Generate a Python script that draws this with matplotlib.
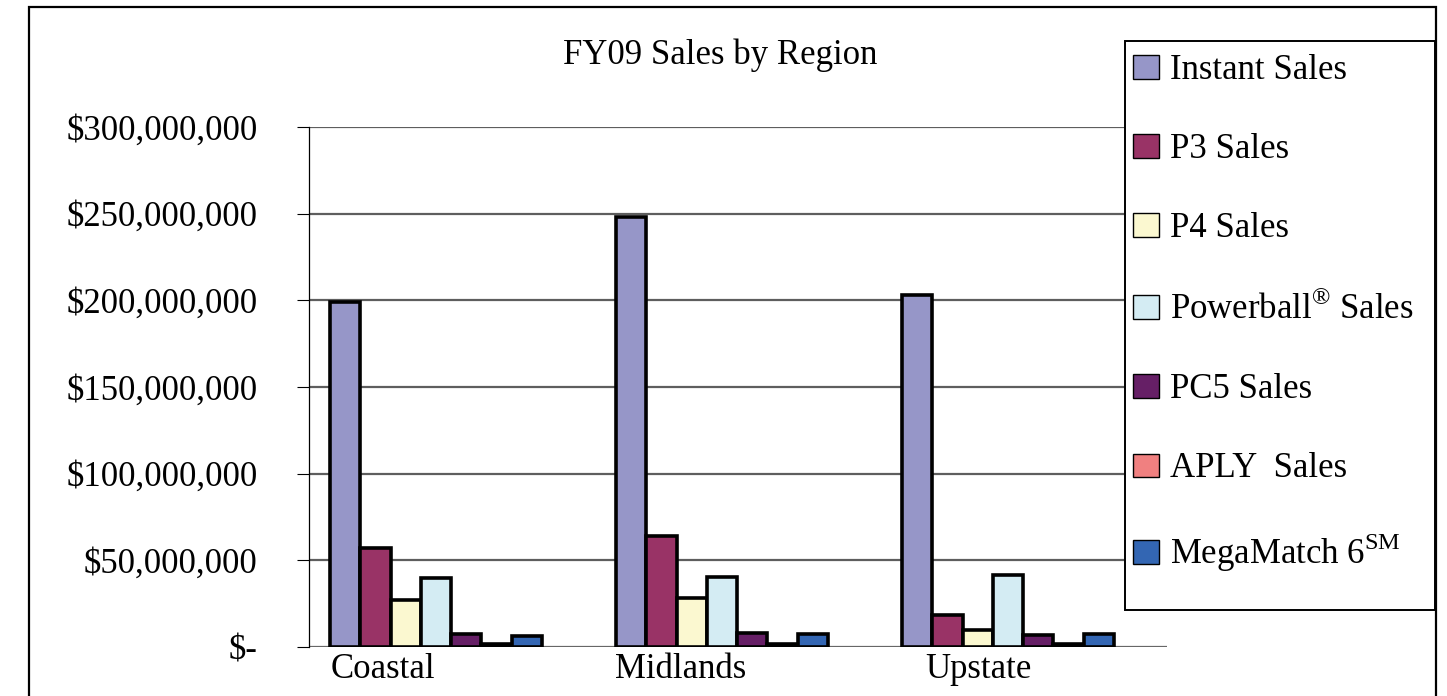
import numpy as np
import matplotlib.pyplot as plt
from matplotlib.patches import Rectangle
from matplotlib.ticker import FuncFormatter

plt.rcParams['font.family'] = ['Liberation Serif', 'DejaVu Serif']
plt.rcParams['mathtext.fontset'] = 'custom'
plt.rcParams['mathtext.rm'] = 'Liberation Serif'

regiones = ['Coastal', 'Midlands', 'Upstate']
series = ['Instant Sales', 'P3 Sales', 'P4 Sales', 'Powerball$^{\\mathrm{®}}$ Sales',
          'PC5 Sales', 'APLY  Sales', 'MegaMatch 6$^{\\mathrm{SM}}$']
instant = [199e6, 248e6, 203e6]
p3 = [57e6, 64e6, 18.5e6]
p4 = [27e6, 28e6, 10e6]
powerball = [40e6, 40.5e6, 41.5e6]
pc5 = [7.5e6, 8e6, 7e6]
aply = [1.5e6, 1.5e6, 1.5e6]
megamatch = [6.5e6, 7.5e6, 7.5e6]
colores = ['#9696C8', '#993366', '#FBF8D0', '#D4ECF3', '#661F66', '#F08080', '#3366B3']

datos = [instant, p3, p4, powerball, pc5, aply, megamatch]

fig = plt.figure(figsize=(14.47, 6.96), dpi=100)
ax = fig.add_axes([309/1447, 1-647/696, (1167-309)/1447, (647-127)/696])

x = np.arange(len(regiones))
ancho = 0.106
for i, valores in enumerate(datos):
    ax.bar(x + (i - 3) * ancho, valores, ancho, color=colores[i], edgecolor='black',
           linewidth=2.6, label=series[i], zorder=3)

ax.set_ylim(0, 300e6)
ax.set_xlim(-127/286, 2 + (1167-1008)/286)
ax.set_yticks(np.arange(0, 300e6 + 1, 50e6))
ax.yaxis.set_major_formatter(FuncFormatter(lambda v, p: '\\$-' if v == 0 else '\\${:,.0f}'.format(v)))
ax.tick_params(axis='y', labelsize=25, length=9, width=0.8, pad=28)
ax.set_xticks([-0.185, 0.857, 1.895])
ax.set_xticklabels(regiones)
ax.tick_params(axis='x', labelsize=25, length=0, pad=4)
ax.grid(axis='y', color='#5e5e5e', linewidth=1.6, zorder=0)
for s in ['top', 'right', 'bottom']:
    ax.spines[s].set_visible(False)
ax.spines['left'].set_linewidth(0.9)
ax.axhline(0, color='#6a6a6a', linewidth=1.8, zorder=2)

# marco exterior y caja de la leyenda
fig.patches.append(Rectangle((29/1447, -0.1), (1436-29)/1447, 1.1 - 7/696, transform=fig.transFigure,
                             fill=False, edgecolor='black', linewidth=1.6))
fig.patches.append(Rectangle((1125/1447, 1-610/696), (1435-1125)/1447, (610-41)/696,
                             transform=fig.transFigure, facecolor='white', edgecolor='black',
                             linewidth=1.4, zorder=5))

leg = fig.legend(loc='upper left', bbox_to_anchor=(1133/1447, 1-54/696), frameon=False,
                 fontsize=25, handlelength=0.76, handleheight=0.66, handletextpad=0.3,
                 labelspacing=1.33, borderpad=0, borderaxespad=0)
for h in leg.legend_handles:
    h.set_linewidth(1.0)
leg.set_zorder(6)

fig.text(720/1447, 1-55/696, 'FY09 Sales by Region', ha='center', va='center', fontsize=25)

plt.savefig('out.png', dpi=100)
